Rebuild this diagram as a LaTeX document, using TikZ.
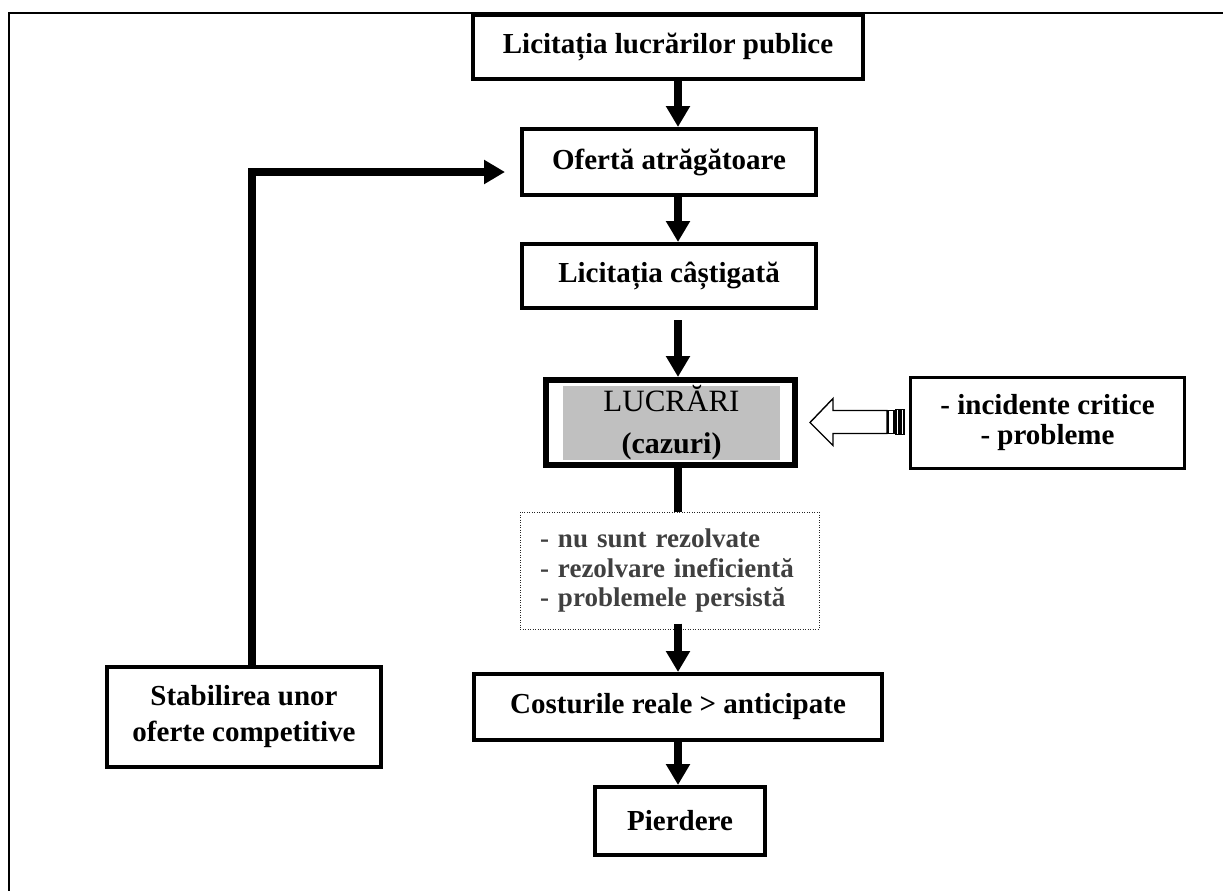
\documentclass[tikz,border=0pt]{standalone}
\usepackage{fontspec}
\setmainfont{Liberation Serif}
\usetikzlibrary{arrows.meta}
\definecolor{boxgray}{HTML}{C0C0C0}
\definecolor{txtgray}{HTML}{404040}
\begin{document}
\begin{tikzpicture}[x=1pt,y=-1pt,
  box/.style={draw, line width=4pt, rectangle, inner sep=0pt, align=center,
    font=\fontsize{29}{36}\selectfont\bfseries},
  arr/.style={line width=8pt, -{Triangle[width=23pt,length=21pt]}},
  plain/.style={line width=8pt},
  hollow/.style={draw, line width=1.4pt, fill=white, line join=miter},
  stripe/.style={draw, line width=1.2pt, fill=white}
]
\useasboundingbox (0,0) rectangle (1223,891);
% outer frame (only top and left visible)
\draw[line width=2.5pt] (9,900) -- (9,13) -- (1235,13);

% column x
\coordinate (colx) at (678,0);

\node[box, minimum width=390pt, minimum height=64pt] (b1) at (668,47) {Licitația lucrărilor publice};
\node[box, minimum width=294pt, minimum height=66pt] (b2) at (669,162) {Ofertă atrăgătoare};
\node[box, minimum width=294pt, minimum height=64pt] (b3) at (669,276) {Licitația câștigată};
\node[draw, line width=6pt, rectangle, minimum width=249pt, minimum height=85pt, inner sep=0pt] (luc) at (670.5,422.5) {};
\node[fill=boxgray, minimum width=217pt, minimum height=68pt, inner sep=0pt, align=center,
  font=\fontsize{31}{42}\selectfont] (luct) at (671.5,423) {LUCRĂRI\\\fontsize{30}{42}\selectfont\textbf{(cazuri)}};
\node[box, line width=3pt, minimum width=274pt, minimum height=91pt,
  font=\fontsize{29}{30}\selectfont\bfseries] (ic) at (1047.5,423) {- incidente critice\\- probleme};
\node[draw=black!85, line width=1pt, dash pattern=on 1pt off 1.5pt, rectangle,
  minimum height=117pt, text width=259pt, inner xsep=20pt, inner ysep=0pt, align=left,
  text=txtgray, font=\fontsize{27}{29.5}\selectfont\bfseries] (dt) at (669.5,570.5)
  {- nu sunt rezolvate\\- rezolvare ineficientă\\- problemele persistă};
\node[box, minimum width=408pt, minimum height=66pt] (cr) at (678,707) {Costurile reale > anticipate};
\node[box, minimum width=170pt, minimum height=68pt] (pd) at (680,821) {Pierdere};
\node[box, minimum width=274pt, minimum height=100pt] (st) at (244,717) {Stabilirea unor\\oferte competitive};

% main arrows
\draw[arr] (b1.south -| colx) -- (b2.north -| colx);
\draw[arr] (b2.south -| colx) -- (b3.north -| colx);
\draw[arr] ([yshift=-10pt]b3.south -| colx) -- (luc.north -| colx);
\draw[plain] (luc.south -| colx) -- (dt.north -| colx);
\draw[arr] ([yshift=6pt]dt.south -| colx) -- (cr.north -| colx);
\draw[arr] (cr.south -| colx) -- (pd.north -| colx);

% feedback
\coordinate (fbx) at (252,172);
\coordinate (fbtip) at ([xshift=-15pt]b2.west |- fbx);
\draw[arr, line join=miter] (st.north -| fbx) |- (fbtip);

% hollow striped arrow from ic to luc
\coordinate (htip) at ([xshift=12pt]luc.east);
\draw[hollow] (htip) -- ++(23,-24) -- ++(0,12) -- ++(54,0) -- ++(0,23) -- ++(-54,0) -- ++(0,12) -- cycle;
\draw[stripe] ([xshift=78pt,yshift=12pt]htip) rectangle ++(6,23);
\draw[stripe] ([xshift=86pt,yshift=13pt]htip) rectangle ++(3,25);
\draw[stripe] ([xshift=91pt,yshift=13pt]htip) rectangle ++(3,25);
\end{tikzpicture}
\end{document}
